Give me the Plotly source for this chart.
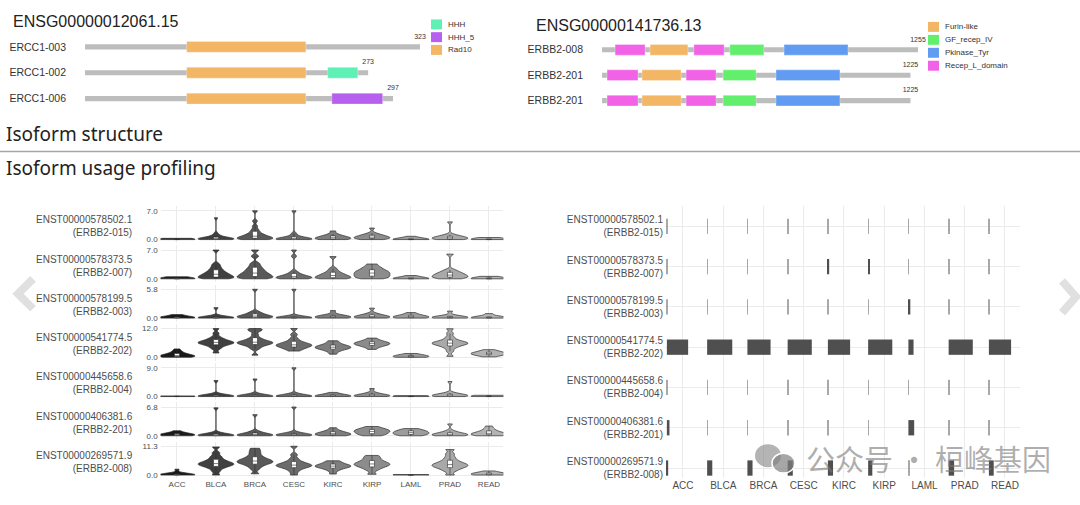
import plotly.graph_objects as go

W, H = 1080, 505

# ---- isoform structure data ----
ercc1_isoforms = ['ERCC1-003', 'ERCC1-002', 'ERCC1-006']
ercc1_len = [323, 273, 297]
ercc1_dom_name = ['Rad10', 'Rad10', 'Rad10', 'HHH', 'HHH_5']
ercc1_dom_row = [0, 1, 2, 1, 2]
ercc1_dom_start = [98, 98, 98, 234, 238]
ercc1_dom_end = [213, 213, 213, 263, 287]

erbb2_isoforms = ['ERBB2-008', 'ERBB2-201', 'ERBB2-201']
erbb2_len = [1255, 1225, 1225]
erbb2_dom_name = ['Recep_L_domain', 'Furin-like', 'Recep_L_domain', 'GF_recep_IV', 'Pkinase_Tyr'] * 3
erbb2_dom_row = [0] * 5 + [1] * 5 + [2] * 5
erbb2_dom_start = [52, 191, 365, 508, 723, 20, 159, 334, 481, 691, 20, 159, 334, 481, 691]
erbb2_dom_end = [171, 341, 485, 643, 977, 143, 314, 453, 612, 945, 143, 314, 453, 612, 945]

dom_colors = {
    'HHH': '#5FF0B6', 'HHH_5': '#B760F0', 'Rad10': '#F3B664',
    'Furin-like': '#F3B664', 'GF_recep_IV': '#62F06C',
    'Pkinase_Tyr': '#619CF2', 'Recep_L_domain': '#F262E6',
}

# ---- isoform usage data ----
cancers = ['ACC', 'BLCA', 'BRCA', 'CESC', 'KIRC', 'KIRP', 'LAML', 'PRAD', 'READ']
transcripts = ['ENST00000578502.1', 'ENST00000578373.5', 'ENST00000578199.5', 'ENST00000541774.5',
               'ENST00000445658.6', 'ENST00000406381.6', 'ENST00000269571.9']
transcript_names = ['ERBB2-015', 'ERBB2-007', 'ERBB2-003', 'ERBB2-202', 'ERBB2-004', 'ERBB2-201', 'ERBB2-008']
row_max = [7.0, 7.0, 5.8, 12.0, 9.0, 6.8, 11.3]

# expression samples per cancer (ACC ... READ), one list per transcript
expr_015 = [
    [0, 0, 0, 0.02, 0.05, 0.1, 0.3],
    [0, 0, 0.02, 0.05, 0.08, 0.12, 0.16, 0.2, 0.25, 0.3, 0.4, 0.5, 0.7, 1.0, 1.5, 5.3],
    [0, 0.05, 0.1, 0.2, 0.3, 0.4, 0.5, 0.6, 0.75, 0.9, 1.1, 1.3, 1.6, 2, 2.5, 3.3, 4.5, 7],
    [0, 0, 0.02, 0.05, 0.1, 0.15, 0.2, 0.3, 0.4, 0.6, 0.9, 1.5, 7],
    [0, 0.05, 0.1, 0.2, 0.3, 0.4, 0.5, 0.65, 0.8, 1, 1.3, 2.1],
    [0, 0.1, 0.2, 0.3, 0.4, 0.5, 0.6, 0.7, 0.85, 1, 1.2, 1.5, 2.8],
    [0, 0, 0, 0.02, 0.05, 0.1, 0.2, 0.8],
    [0, 0.05, 0.1, 0.2, 0.3, 0.4, 0.5, 0.6, 0.75, 0.9, 1.2, 4.3],
    [0, 0, 0, 0.05, 0.1, 0.2, 0.5],
]
expr_007 = [
    [0, 0, 0, 0.05, 0.1, 0.2, 0.5],
    [0, 0.1, 0.2, 0.3, 0.45, 0.6, 0.75, 0.9, 1.1, 1.3, 1.5, 1.8, 2.1, 2.5, 3, 3.6, 7],
    [0, 0.15, 0.3, 0.45, 0.6, 0.8, 1, 1.2, 1.4, 1.7, 2, 2.3, 2.7, 3.2, 3.8, 5.5, 7],
    [0, 0.05, 0.1, 0.2, 0.3, 0.4, 0.5, 0.6, 0.8, 1, 1.3, 1.8, 5.5, 7],
    [0, 0.1, 0.2, 0.3, 0.45, 0.6, 0.8, 1, 1.2, 1.5, 1.9, 2.5, 5.4],
    [0, 0.2, 0.4, 0.6, 0.8, 1, 1.2, 1.4, 1.6, 1.8, 2, 2.3, 2.6, 3, 3.6],
    [0, 0, 0, 0.05, 0.1, 0.3, 0.8],
    [0, 0.15, 0.3, 0.45, 0.6, 0.75, 0.9, 1.1, 1.3, 1.5, 1.8, 2.2, 6],
    [0, 0, 0, 0.05, 0.1, 0.3, 0.6],
]
expr_003 = [
    [0, 0.02, 0.05, 0.1, 0.15, 0.25, 0.7],
    [0, 0, 0.02, 0.04, 0.06, 0.1, 0.15, 0.2, 0.3, 2.1],
    [0, 0.05, 0.1, 0.15, 0.2, 0.3, 0.4, 0.5, 0.6, 0.8, 1, 1.3, 5.8],
    [0, 0, 0.02, 0.04, 0.06, 0.1, 0.15, 0.2, 0.3, 5.8],
    [0, 0.05, 0.1, 0.15, 0.2, 0.3, 0.4, 0.5, 0.7, 1.5],
    [0, 0.05, 0.1, 0.15, 0.2, 0.3, 0.4, 0.5, 0.7, 0.9, 2],
    [0, 0.05, 0.1, 0.15, 0.2, 0.3, 0.4, 0.55, 0.75, 1.1],
    [0, 0.02, 0.05, 0.1, 0.15, 0.2, 0.3, 0.45, 1.4],
    [0, 0.02, 0.05, 0.1, 0.15, 0.25, 0.9],
]
expr_202 = [
    [0, 0.1, 0.2, 0.3, 0.4, 0.5, 0.6, 0.8, 1, 1.3, 1.6, 2, 2.6, 3.5],
    [1.8, 3.5, 4.3, 4.9, 5.3, 5.6, 5.8, 6, 6.2, 6.4, 6.6, 6.9, 7.3, 7.8, 8.5, 10, 12],
    [0.9, 3.5, 4.3, 4.9, 5.3, 5.6, 5.8, 6, 6.2, 6.4, 6.7, 7, 7.5, 8.2, 9.5, 11, 11.5, 12],
    [2.6, 3.3, 3.8, 4.2, 4.5, 4.8, 5, 5.2, 5.5, 5.8, 6.2, 6.8, 7.8, 9.5, 12],
    [1.3, 2.4, 3, 3.4, 3.7, 3.9, 4.1, 4.3, 4.5, 4.8, 5.1, 5.5, 6.2, 6.9],
    [3.3, 4.2, 4.7, 5, 5.3, 5.5, 5.7, 5.9, 6.1, 6.4, 6.7, 7.2, 8],
    [0, 0.05, 0.1, 0.2, 0.3, 0.4, 0.5, 0.65, 0.8, 1.1, 1.6],
    [0.4, 2.5, 3.8, 4.5, 5, 5.3, 5.6, 5.8, 6, 6.2, 6.5, 6.9, 7.5, 8.5, 10, 11.9],
    [0.2, 0.7, 1, 1.2, 1.35, 1.5, 1.65, 1.8, 2, 2.3, 2.7, 3.2],
]
expr_004 = [
    [0, 0, 0, 0.02, 0.05, 0.1, 0.2],
    [0, 0, 0.03, 0.06, 0.1, 0.15, 0.2, 0.3, 0.45, 0.7, 5],
    [0, 0, 0.03, 0.06, 0.1, 0.15, 0.2, 0.3, 0.45, 0.8, 5.5],
    [0, 0, 0.03, 0.06, 0.1, 0.15, 0.2, 0.3, 0.5, 0.9, 9],
    [0, 0.02, 0.05, 0.1, 0.15, 0.2, 0.3, 0.45, 0.7, 1.3],
    [0, 0.05, 0.1, 0.15, 0.2, 0.3, 0.4, 0.55, 0.8, 1.2, 2.5],
    [0, 0, 0, 0.02, 0.05, 0.1, 0.3],
    [0, 0.05, 0.1, 0.15, 0.2, 0.3, 0.4, 0.5, 0.65, 0.85, 1.1, 4.7],
    [0, 0, 0.02, 0.05, 0.1, 0.2, 0.4],
]
expr_201 = [
    [0, 0.05, 0.1, 0.15, 0.2, 0.3, 0.4, 0.5, 0.7, 1.2],
    [0, 0, 0.03, 0.06, 0.1, 0.15, 0.2, 0.3, 0.45, 0.7, 6.6],
    [0, 0.03, 0.06, 0.1, 0.15, 0.2, 0.3, 0.4, 0.55, 0.8, 1.1, 5],
    [0, 0.03, 0.06, 0.1, 0.15, 0.2, 0.3, 0.4, 0.55, 0.8, 6.8],
    [0, 0.1, 0.2, 0.3, 0.4, 0.5, 0.65, 0.8, 1, 1.3, 1.9],
    [0, 0.2, 0.4, 0.6, 0.8, 0.95, 1.1, 1.25, 1.4, 1.6, 1.8, 2.2],
    [0, 0.15, 0.3, 0.45, 0.6, 0.75, 0.9, 1.05, 1.2, 1.4, 1.7],
    [0, 0.05, 0.1, 0.15, 0.2, 0.3, 0.4, 0.5, 0.65, 0.85, 1.2, 2.8],
    [0, 0.1, 0.2, 0.3, 0.4, 0.5, 0.65, 0.8, 1, 1.3, 1.7, 2.3],
]
expr_008 = [
    [0, 0, 0.03, 0.06, 0.1, 0.15, 0.2, 0.3, 0.5, 2.3],
    [0, 1.5, 2.5, 3.1, 3.5, 3.8, 4.1, 4.3, 4.5, 4.8, 5.1, 5.5, 6, 6.7, 7.5, 8.8, 11],
    [0.5, 2.3, 3.3, 3.9, 4.4, 4.7, 5, 5.2, 5.5, 5.8, 6.1, 6.5, 7, 7.7, 8.6, 9.5, 10.5],
    [0, 1.3, 2.2, 2.7, 3.1, 3.4, 3.6, 3.8, 4, 4.3, 4.6, 5, 5.6, 6.5, 8, 11.3],
    [0.4, 1.7, 2.4, 2.8, 3.1, 3.3, 3.5, 3.7, 3.9, 4.2, 4.6, 5.1, 5.6],
    [0.3, 1.9, 2.7, 3.2, 3.6, 3.9, 4.2, 4.5, 4.8, 5.2, 5.7, 6.3, 7, 7.7],
    [0, 0, 0, 0.02, 0.05, 0.1, 0.2],
    [0, 1.5, 2.3, 2.8, 3.2, 3.5, 3.8, 4.1, 4.4, 4.8, 5.3, 6, 7, 8.3, 10],
    [0, 0.05, 0.1, 0.2, 0.3, 0.4, 0.5, 0.65, 0.85, 1.1, 1.6],
]
expr_rows = [expr_015, expr_007, expr_003, expr_202, expr_004, expr_201, expr_008]

# isoform usage proportion per cancer (right panel)
usage_015 = [0.012, 0.012, 0.012, 0.012, 0.012, 0.012, 0.012, 0.012, 0.012]
usage_007 = [0.012, 0.012, 0.012, 0.012, 0.04, 0.04, 0.012, 0.012, 0.012]
usage_003 = [0.012, 0.012, 0.012, 0.012, 0.012, 0.012, 0.06, 0.012, 0.012]
usage_202 = [0.66, 0.78, 0.72, 0.75, 0.69, 0.75, 0.16, 0.75, 0.69]
usage_004 = [0.012, 0.012, 0.012, 0.012, 0.012, 0.012, 0.012, 0.012, 0.012]
usage_201 = [0.08, 0.012, 0.012, 0.012, 0.012, 0.012, 0.18, 0.012, 0.012]
usage_008 = [0.04, 0.16, 0.16, 0.16, 0.16, 0.13, 0.02, 0.17, 0.15]
usage_rows = [usage_015, usage_007, usage_003, usage_202, usage_004, usage_201, usage_008]

cancer_fill = ['#1a1a1a', '#404040', '#595959', '#6b6b6b', '#7e7e7e', '#8c8c8c', '#9d9d9d', '#a9a9a9', '#b3b3b3']


def px_x(x):
    return x / W


def px_y(y):
    return 1 - y / H


LAB = 'Liberation Sans, Arial, sans-serif'
TXT = '#4d4d4d'
GRID = '#ebebeb'

fig = go.Figure()


# ---------- isoform structure panels ----------
def add_structure(isoforms, lengths, dname, drow, dstart, dend, xa, ya):
    rows = list(range(len(isoforms)))
    fig.add_trace(go.Bar(
        y=rows, x=lengths, base=[0] * len(lengths), orientation='h', width=0.2,
        marker=dict(color='#bdbdbd', line=dict(width=0)), showlegend=False,
        xaxis=xa, yaxis=ya, hoverinfo='skip'))
    for name in sorted(set(dname)):
        idx = [i for i, n in enumerate(dname) if n == name]
        fig.add_trace(go.Bar(
            y=[drow[i] for i in idx], x=[dend[i] - dstart[i] for i in idx],
            base=[dstart[i] for i in idx], orientation='h', width=0.42, name=name,
            marker=dict(color=dom_colors[name], line=dict(color='rgba(255,255,255,0.6)', width=0.5)),
            xaxis=xa, yaxis=ya, showlegend=False))
    fig.add_trace(go.Scatter(
        x=lengths, y=[r - 0.25 for r in rows], mode='text', text=[str(v) for v in lengths],
        textposition='top center', textfont=dict(size=7, color='#333', family=LAB),
        cliponaxis=False, showlegend=False, xaxis=xa, yaxis=ya, hoverinfo='skip'))


add_structure(ercc1_isoforms, ercc1_len, ercc1_dom_name, ercc1_dom_row,
              ercc1_dom_start, ercc1_dom_end, 'x', 'y')
add_structure(erbb2_isoforms, erbb2_len, erbb2_dom_name, erbb2_dom_row,
              erbb2_dom_start, erbb2_dom_end, 'x2', 'y2')

# ---------- violin panel ----------
for r, rows in enumerate(expr_rows):
    n = r + 3
    for c, vals in enumerate(rows):
        fig.add_trace(go.Violin(
            x=[cancers[c]] * len(vals), y=vals, xaxis=f'x{n}', yaxis=f'y{n}',
            width=0.92, scalemode='width', spanmode='hard', points=False,
            bandwidth=row_max[r] * 0.05,
            fillcolor=cancer_fill[c], opacity=1, line=dict(color='#2b2b2b', width=0.7),
            box=dict(visible=True, width=0.14, fillcolor='white', line=dict(color='#2b2b2b', width=0.6)),
            meanline=dict(visible=False), showlegend=False, hoverinfo='skip'))

# ---------- usage bar panel ----------
for r, usage in enumerate(usage_rows):
    fig.add_trace(go.Bar(
        y=[r] * len(usage), x=[u * 0.8 for u in usage], base=[c - 0.4 for c in range(len(cancers))],
        orientation='h', width=0.38,
        marker=dict(color=['#4f4f4f' if u >= 0.03 else '#a8a8a8' for u in usage], line=dict(width=0)),
        cliponaxis=False, xaxis='x10', yaxis='y10', showlegend=False, hoverinfo='skip'))

# ---------- axes ----------
layout = dict(
    width=W, height=H, margin=dict(l=0, r=0, t=0, b=0),
    paper_bgcolor='white', plot_bgcolor='rgba(0,0,0,0)',
    barmode='overlay', violinmode='overlay', showlegend=False,
    font=dict(family=LAB, color=TXT),
)

struct_axis_x = dict(visible=False, fixedrange=True)
layout['xaxis'] = dict(struct_axis_x, range=[0, 323], domain=[px_x(85), px_x(420)], anchor='y')
layout['yaxis'] = dict(range=[2.5, -0.5], domain=[px_y(112), px_y(34)], anchor='x',
                       tickvals=[0, 1, 2], ticktext=ercc1_isoforms, showgrid=False, zeroline=False,
                       showline=False, ticks='', ticklabelstandoff=18,
                       tickfont=dict(size=10.5, color='#333', family=LAB))
layout['xaxis2'] = dict(struct_axis_x, range=[0, 1255], domain=[px_x(602), px_x(918)], anchor='y2')
layout['yaxis2'] = dict(range=[2.5, -0.5], domain=[px_y(113.75), px_y(37.25)], anchor='x2',
                        tickvals=[0, 1, 2], ticktext=erbb2_isoforms, showgrid=False, zeroline=False,
                        showline=False, ticks='', ticklabelstandoff=18,
                        tickfont=dict(size=10.5, color='#333', family=LAB))

for r in range(7):
    n = r + 3
    top = 207 + 39.4 * r
    bot = top + 37
    m = row_max[r]
    layout[f'xaxis{n}'] = dict(
        type='category', categoryorder='array', categoryarray=cancers,
        range=[-0.42, 8.37], domain=[px_x(160.6), px_x(503.4)], anchor=f'y{n}',
        showgrid=True, gridcolor=GRID, gridwidth=0.8, zeroline=False, showline=False,
        showticklabels=(r == 6), ticks='', tickfont=dict(size=8, color=TXT))
    layout[f'yaxis{n}'] = dict(
        range=[-0.12 * m, 1.16 * m], domain=[px_y(bot), px_y(top)], anchor=f'x{n}',
        tickvals=[0, m], ticktext=['0.0', f'{m:.1f}'], showgrid=True, gridcolor=GRID, gridwidth=0.8,
        zeroline=False, showline=False, ticks='', ticklabelstandoff=2,
        tickfont=dict(size=8, color=TXT))

layout['xaxis10'] = dict(
    range=[-0.447, 8.373], domain=[px_x(665), px_x(1020)], anchor='y10',
    tickvals=list(range(len(cancers))), ticktext=cancers, showgrid=True, gridcolor=GRID,
    gridwidth=0.8, zeroline=False, showline=False, ticks='', tickfont=dict(size=10, color=TXT))
layout['yaxis10'] = dict(
    range=[6.25, -0.5], domain=[px_y(480), px_y(207)], anchor='x10',
    tickvals=list(range(7)),
    ticktext=[f'{t}<br>({n})' for t, n in zip(transcripts, transcript_names)],
    showgrid=True, gridcolor=GRID, gridwidth=0.8, zeroline=False, showline=False, ticks='',
    ticklabelstandoff=1, tickfont=dict(size=10, color=TXT))

fig.update_layout(**layout)


# ---------- domain keys ----------
def add_key(names, x_box, y_first, step):
    for i, name in enumerate(names):
        yc = y_first + i * step
        fig.add_shape(type='rect', xref='paper', yref='paper',
                      x0=px_x(x_box), x1=px_x(x_box + 11), y0=px_y(yc + 5), y1=px_y(yc - 5),
                      fillcolor=dom_colors[name], line=dict(width=0))
        fig.add_annotation(text=name, xref='paper', yref='paper', x=px_x(x_box + 15), y=px_y(yc),
                           xanchor='left', yanchor='middle', showarrow=False,
                           font=dict(size=8, color='#333', family=LAB))


add_key(sorted(set(ercc1_dom_name)), 431, 24.5, 12.8)
add_key(sorted(set(erbb2_dom_name)), 928, 27, 13)

# ---------- texts ----------
annots = [
    dict(text='ENSG00000012061.15', x=px_x(11), y=px_y(22), font=dict(size=16, color='#222', family=LAB)),
    dict(text='ENSG00000141736.13', x=px_x(534), y=px_y(26), font=dict(size=16, color='#222', family=LAB)),
    dict(text='Isoform structure', x=px_x(4), y=px_y(135), font=dict(size=19, color='#222', family='Noto Sans')),
    dict(text='Isoform usage profiling', x=px_x(4), y=px_y(169), font=dict(size=19, color='#222', family='Noto Sans')),
]
for a in annots:
    fig.add_annotation(xref='paper', yref='paper', xanchor='left', yanchor='middle', showarrow=False, **a)

for r in range(7):
    fig.add_annotation(
        text=f'{transcripts[r]}<br>({transcript_names[r]})', xref='paper', yref=f'y{r + 3} domain',
        x=px_x(135), y=0.45, xanchor='right', yanchor='middle', align='right', showarrow=False,
        font=dict(size=10, color=TXT, family=LAB))

# watermark
fig.add_annotation(text='公众号 · 桓峰基因', xref='paper', yref='paper', x=px_x(928), y=px_y(460),
                   xanchor='center', yanchor='middle', showarrow=False,
                   font=dict(size=29, color='rgba(120,120,120,0.6)', family='Noto Sans CJK SC'))
fig.add_shape(type='circle', xref='paper', yref='paper', x0=px_x(755), x1=px_x(781), y0=px_y(469), y1=px_y(446),
              fillcolor='rgba(130,130,130,0.6)', line=dict(width=0))
fig.add_shape(type='circle', xref='paper', yref='paper', x0=px_x(772), x1=px_x(795), y0=px_y(475), y1=px_y(455),
              fillcolor='rgba(130,130,130,0.7)', line=dict(color='white', width=1.5))

# separator and carousel arrows
fig.add_shape(type='line', xref='paper', yref='paper', x0=0, x1=1, y0=px_y(152), y1=px_y(152),
              line=dict(color='#a6a6a6', width=1.5))
fig.add_shape(type='path', xref='paper', yref='paper',
              path=f'M {px_x(33)} {px_y(280)} L {px_x(18)} {px_y(295)} L {px_x(33)} {px_y(310)}',
              line=dict(color='#e0e0e0', width=8))
fig.add_shape(type='path', xref='paper', yref='paper',
              path=f'M {px_x(1062)} {px_y(282)} L {px_x(1076)} {px_y(298)} L {px_x(1062)} {px_y(314)}',
              line=dict(color='#e0e0e0', width=8))

fig.write_html('out.html', config={'displayModeBar': False},
               post_script="document.body.style.margin='0';document.body.style.overflow='hidden';"
                           "document.documentElement.style.overflow='hidden';")
